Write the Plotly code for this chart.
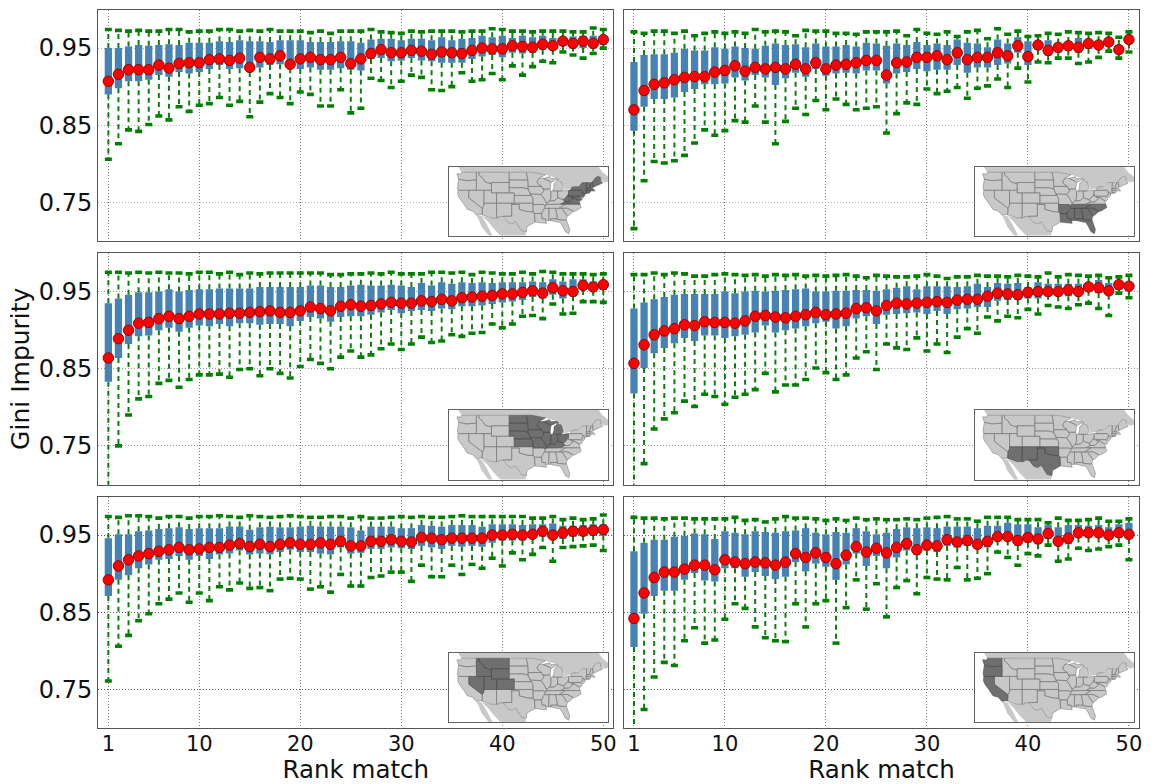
import numpy as np
import plotly.graph_objects as go

W, H = 1155, 784
ranks = list(range(1, 51))
x_ticks = [1, 10, 20, 30, 40, 50]
y_ticks = [0.75, 0.85, 0.95]
y_tick_labels = ["0.75", "0.85", "0.95"]
x_title = "Rank match"
y_title = "Gini Impurity"

# Values below are Gini impurity x 1000
ne_top = [974,973,972,973,972,972,974,974,971,972,972,974,974,972,973,972,974,972,972,972,970,972,969,972,972,972,974,971,970,969,972,971,972,972,972,971,972,972,975,974,972,972,971,972,972,972,971,971,976,974]
ne_q3 = [950,950,952,954,953,954,955,954,957,957,957,959,958,960,959,959,958,960,960,960,958,958,958,959,959,957,961,962,962,960,962,962,960,964,960,962,963,966,964,966,963,966,964,966,963,964,965,966,966,966]
ne_med = [907,916,922,922,922,928,924,930,931,931,935,936,934,937,925,938,936,940,929,936,938,935,935,938,930,936,943,948,944,944,947,946,942,945,944,943,947,950,949,949,953,952,951,955,953,959,956,959,956,961]
ne_q1 = [890,898,907,907,909,915,913,919,917,919,923,928,923,924,919,925,928,929,924,923,925,922,922,924,922,921,936,937,933,934,937,934,933,931,931,931,936,939,941,938,944,943,944,948,948,953,952,950,952,954]
ne_low = [806,826,844,842,851,862,857,874,868,876,878,886,876,881,861,880,891,886,878,893,890,875,875,896,866,872,911,908,899,907,915,912,896,895,900,918,907,909,917,909,927,915,926,933,931,945,941,937,943,950]

se_top = [971,969,972,972,969,972,966,969,971,969,971,969,974,971,972,971,966,973,972,972,969,969,968,971,971,971,972,966,974,969,968,971,965,971,973,962,975,968,972,965,966,969,968,971,970,969,970,969,964,971]
se_q3 = [932,941,942,942,944,949,947,947,951,949,952,950,949,953,956,954,955,951,956,952,952,954,952,957,956,953,956,954,958,954,956,954,961,957,956,951,961,956,964,959,959,960,956,958,963,960,959,962,954,966]
se_med = [870,895,903,905,909,912,913,913,919,921,927,920,925,923,925,923,929,923,931,923,928,929,931,934,934,915,931,932,938,938,940,935,944,935,938,938,944,940,953,939,954,947,951,953,951,956,954,958,948,961]
se_q1 = [843,874,884,884,886,893,897,903,903,904,912,908,915,912,902,911,918,913,923,914,917,918,917,921,921,904,917,919,923,920,922,922,928,918,925,925,928,930,944,928,948,940,944,947,944,949,949,952,943,956]
se_low = [716,778,803,801,804,811,827,844,837,843,856,854,875,854,826,855,872,864,882,870,884,877,870,872,874,840,865,879,877,897,891,894,899,885,898,901,910,899,924,906,932,931,937,937,930,932,938,946,937,945]

mw_top = [975,975,974,975,974,975,974,974,973,975,975,973,975,972,974,973,974,974,974,974,974,974,972,972,973,973,974,973,975,973,973,973,975,975,974,975,972,975,974,973,973,975,973,976,975,973,973,973,972,973]
mw_q3 = [935,941,946,949,949,950,953,950,952,953,953,954,954,954,954,956,956,956,956,956,958,958,956,956,958,959,958,958,959,958,956,961,958,962,960,962,961,962,961,962,962,962,963,962,966,963,966,966,963,963]
mw_med = [864,889,900,909,910,915,918,915,918,921,921,921,922,922,923,924,925,923,923,925,930,928,925,931,933,931,932,934,936,935,935,938,937,940,938,942,943,944,945,947,947,949,951,948,955,951,950,958,956,959]
mw_q1 = [833,864,882,892,893,900,903,898,903,906,905,908,905,909,909,907,908,908,905,912,917,915,911,917,918,918,920,923,926,922,925,926,925,928,927,931,931,932,934,936,937,939,943,941,946,941,944,952,951,952]
mw_low = [695,750,790,811,814,831,835,826,836,842,842,843,839,849,850,841,850,844,838,853,862,857,850,865,873,865,868,876,882,875,882,891,884,886,894,892,896,897,908,903,908,918,919,915,934,921,922,937,937,936]

sw_top = [972,972,974,972,974,973,970,970,972,973,972,971,972,970,972,971,972,970,971,970,971,972,970,968,971,970,969,969,970,972,970,967,969,969,971,970,970,969,971,970,969,974,969,972,971,970,971,968,969,971]
sw_q3 = [928,936,940,943,946,947,947,947,947,950,948,950,951,950,951,952,953,954,950,950,951,951,952,952,951,953,955,957,953,957,957,957,956,957,960,956,961,960,961,956,962,960,960,960,960,962,965,961,964,962]
sw_med = [857,881,894,899,902,907,906,911,910,910,909,912,918,919,917,916,918,920,923,920,921,922,928,929,925,932,935,934,935,936,937,936,939,940,940,944,948,947,946,949,950,950,950,952,950,956,955,951,959,957]
sw_q1 = [818,851,870,877,883,890,886,893,893,890,892,894,897,906,897,900,902,905,909,911,902,905,915,918,908,920,921,922,923,921,925,921,927,928,930,930,938,939,939,941,941,946,944,944,944,951,948,946,952,951]
sw_low = [695,727,772,785,793,808,801,817,814,804,813,817,823,844,820,829,829,836,851,845,836,842,864,872,849,882,877,875,890,873,882,871,891,902,896,917,912,918,916,927,921,932,930,928,933,935,928,919,948,942]

we_top = [974,973,975,975,974,972,974,974,972,974,974,975,974,973,975,974,973,974,975,974,973,973,974,974,972,974,972,972,973,974,973,974,973,973,974,975,974,974,974,974,974,974,972,972,974,970,972,970,971,976]
we_q3 = [946,951,951,955,956,958,959,960,958,959,959,959,961,961,957,960,961,960,960,961,962,961,961,961,960,956,961,961,961,959,959,963,962,961,963,963,963,961,964,964,964,963,964,964,965,962,962,963,964,964]
we_med = [892,910,918,923,926,929,931,934,931,932,934,934,937,939,935,938,935,938,940,938,938,940,938,942,936,936,942,942,944,942,941,947,946,944,946,946,946,946,950,950,951,950,951,955,950,953,955,955,956,957]
we_q1 = [871,892,898,907,912,918,919,923,918,923,919,925,926,930,925,926,925,928,931,928,928,926,925,934,926,927,932,932,934,933,932,936,934,932,936,935,936,935,940,943,943,943,945,948,945,945,948,949,950,949]
we_low = [761,806,820,839,848,861,867,875,863,875,865,883,879,888,881,882,878,893,894,893,880,883,876,899,884,884,895,897,902,902,890,911,896,896,911,899,912,907,920,910,927,918,925,934,916,934,935,936,937,930]

pa_top = [973,972,972,971,972,972,971,971,971,971,973,969,970,967,971,974,972,972,971,969,971,969,972,970,971,970,970,971,970,972,973,974,971,971,968,973,973,973,970,970,970,966,972,969,969,970,972,968,968,971]
pa_q3 = [929,940,944,944,948,949,952,951,945,955,953,951,955,954,953,955,956,959,953,951,954,953,959,955,951,953,958,960,959,960,959,961,961,961,959,962,962,966,964,964,960,963,960,963,963,962,963,960,964,966]
pa_med = [842,875,895,902,902,906,911,911,905,918,915,913,915,914,911,915,926,921,927,921,913,924,935,928,933,927,934,939,931,937,936,944,941,943,938,942,948,948,943,947,945,952,942,946,953,953,953,950,953,951]
pa_q1 = [805,848,871,878,878,892,901,891,890,907,907,896,902,897,893,896,915,903,913,909,892,912,926,910,923,907,921,930,924,930,928,936,934,936,932,934,943,943,936,940,938,945,936,938,947,947,947,945,947,945]
pa_low = [695,724,766,785,781,813,830,810,814,841,861,855,831,817,813,812,861,831,861,865,810,856,892,854,887,844,882,891,874,895,893,892,908,892,894,900,928,921,911,926,923,937,916,919,933,930,932,935,937,918]

panels = [
    (ne_top, ne_q3, ne_med, ne_q1, ne_low),
    (se_top, se_q3, se_med, se_q1, se_low),
    (mw_top, mw_q3, mw_med, mw_q1, mw_low),
    (sw_top, sw_q3, sw_med, sw_q1, sw_low),
    (we_top, we_q3, we_med, we_q1, we_low),
    (pa_top, pa_q3, pa_med, pa_q1, pa_low),
]

# Highlighted regions of the inset maps
region_states = [
    ["ME", "NH", "VT", "MA", "CT", "NY", "NJ", "PA", "MD", "VA", "WV"],
    ["AR", "LA", "MS", "AL", "TN", "GA", "FL", "SC", "NC"],
    ["ND", "SD", "NE", "KS", "MN", "IA", "MO", "WI", "IL", "MI", "MIU", "IN", "OH", "KY"],
    ["AZ", "NM", "TX", "OK"],
    ["MT", "ID", "WY", "NV", "UT", "CO"],
    ["WA", "OR", "CA"],
]

# Simplified inset geography (lon, lat)
states = {
    "WA": [(-124.7,48.4),(-123,48.3),(-122.8,49),(-117,49),(-117,46),(-119,45.9),(-121,45.7),(-123.2,46.2),(-124,46.3)],
    "OR": [(-124,46.3),(-123.2,46.2),(-121,45.7),(-119,45.9),(-117,46),(-116.9,45),(-117,44),(-117,42),(-124.2,42),(-124.5,43)],
    "CA": [(-124.2,42),(-120,42),(-120,39),(-114.6,35),(-114.7,32.7),(-117.1,32.5),(-118.5,34),(-120.6,34.6),(-122,36.7),(-123.7,38.9),(-124.4,40.4)],
    "NV": [(-120,42),(-114,42),(-114,36.2),(-114.6,35),(-120,39)],
    "ID": [(-117,49),(-116,49),(-116,48),(-114.4,46.6),(-113.5,45.2),(-111,44.5),(-111,42),(-117,42),(-117,44),(-116.9,45),(-117,46)],
    "MT": [(-116,49),(-104,49),(-104,45),(-111,45),(-111,44.5),(-113.5,45.2),(-114.4,46.6),(-116,48)],
    "WY": [(-111,45),(-104,45),(-104,41),(-111,41)],
    "UT": [(-114,42),(-111,42),(-111,41),(-109,41),(-109,37),(-114,37)],
    "AZ": [(-114,37),(-109,37),(-109,31.3),(-111,31.3),(-114.8,32.5),(-114.6,35),(-114,36.2)],
    "CO": [(-109,41),(-102,41),(-102,37),(-109,37)],
    "NM": [(-109,37),(-103,37),(-103,32),(-106.5,32),(-106.5,31.8),(-108.2,31.8),(-108.2,31.3),(-109,31.3)],
    "ND": [(-104,49),(-97.2,49),(-96.6,46),(-104,46)],
    "SD": [(-104,46),(-96.6,46),(-96.5,42.5),(-98.5,43),(-104,43)],
    "NE": [(-104,43),(-98.5,43),(-96.5,42.5),(-95.3,40),(-102,40),(-102,41),(-104,41)],
    "KS": [(-102,40),(-95.3,40),(-94.6,39),(-94.6,37),(-102,37)],
    "OK": [(-103,37),(-94.6,37),(-94.5,33.6),(-97,33.8),(-100,34.6),(-100,36.5),(-103,36.5)],
    "TX": [(-103,36.5),(-100,36.5),(-100,34.6),(-97,33.8),(-94.5,33.6),(-94,33),(-93.8,29.7),(-97,27.9),(-97.2,26),(-99.2,26.4),(-101.4,29.8),(-103,29),(-104.5,29.6),(-106.5,31.8),(-106.5,32),(-103,32)],
    "MN": [(-97.2,49),(-95,49),(-89.6,48),(-92,46.7),(-92.9,45.5),(-92.8,44.7),(-91.2,43.5),(-96.5,43.5),(-96.6,46)],
    "IA": [(-96.5,43.5),(-91.2,43.5),(-90.2,41.8),(-91.4,40.4),(-95.7,40.6),(-96.5,42.5)],
    "MO": [(-95.7,40.6),(-91.4,40.4),(-90.2,38.8),(-89.2,37),(-89.7,36),(-90.4,36.5),(-94.6,36.5),(-94.6,39),(-95.3,40)],
    "AR": [(-94.6,36.5),(-90.4,36.5),(-89.7,36),(-91.2,33),(-94,33),(-94.5,33.6)],
    "LA": [(-94,33),(-91.2,33),(-91,31),(-89.7,31),(-89.5,30.2),(-89.2,29.2),(-91.5,29.4),(-93.8,29.7)],
    "WI": [(-92,46.7),(-90.5,46.6),(-88,45.5),(-87.5,45),(-87.8,42.5),(-90.6,42.5),(-91.2,43.5),(-92.8,44.7),(-92.9,45.5)],
    "IL": [(-90.6,42.5),(-87.8,42.5),(-87.5,41.5),(-87.5,39),(-88,37.9),(-89.2,37),(-90.2,38.8),(-91.4,40.4),(-90.2,41.8)],
    "MI": [(-86.8,41.8),(-84.8,41.7),(-83.4,41.7),(-82.5,43),(-82.9,44),(-83.4,45.3),(-84.8,45.8),(-86.2,44.7),(-86.3,43)],
    "MIU": [(-90.5,46.6),(-88,47.3),(-87.5,46.5),(-85,46.7),(-84.2,46),(-85.5,46),(-87.5,45),(-88,45.5)],
    "IN": [(-87.5,41.7),(-84.8,41.7),(-84.8,39.1),(-86,38),(-88,37.9),(-87.5,39)],
    "OH": [(-84.8,41.7),(-83.4,41.7),(-80.5,42),(-80.5,40.6),(-81.7,39),(-82.6,38.4),(-84.8,39.1)],
    "KY": [(-89.2,37),(-88,37.9),(-86,38),(-84.8,39.1),(-82.6,38.4),(-82,37.5),(-83.7,36.6),(-89.4,36.5)],
    "TN": [(-90,35),(-89.4,36.5),(-83.7,36.6),(-81.7,36.6),(-84.3,35)],
    "MS": [(-91.2,33),(-90,35),(-88.2,35),(-88.4,30.3),(-89.5,30.2),(-89.7,31),(-91,31)],
    "AL": [(-88.2,35),(-85.6,35),(-85,32),(-85,31),(-87.6,31),(-87.5,30.3),(-88.4,30.3)],
    "GA": [(-85.6,35),(-83.1,35),(-81,32),(-81.4,30.7),(-82,30.4),(-84.9,30.7),(-85,32)],
    "FL": [(-87.6,31),(-85,31),(-84.9,30.7),(-82,30.4),(-81.4,30.7),(-80,26.8),(-80.4,25.2),(-81.8,26),(-82.8,28),(-83.8,29.6),(-85,29.7),(-87.5,30.3)],
    "SC": [(-83.1,35),(-81,35.1),(-78.6,33.9),(-79.9,32.6),(-81,32)],
    "NC": [(-84.3,35),(-81.7,36.6),(-75.9,36.6),(-75.5,35.3),(-77.9,33.9),(-78.6,33.9),(-81,35.1),(-83.1,35)],
    "VA": [(-83.7,36.6),(-81.7,36.6),(-75.9,36.6),(-76.3,38),(-77.2,38.5),(-78.4,39.2),(-80.3,37.5),(-82,37.5)],
    "WV": [(-82.6,38.4),(-81.7,39),(-80.5,40.6),(-80.5,39.7),(-79.5,39.7),(-79.5,39.2),(-78.4,39.2),(-80.3,37.5),(-82,37.5)],
    "PA": [(-80.5,42),(-79.8,42),(-75.3,42),(-74.8,41.3),(-75.1,40),(-75.8,39.7),(-80.5,39.7)],
    "NY": [(-79.8,42.3),(-79,43.3),(-76.5,43.5),(-75,45),(-73.3,45),(-73.5,41.3),(-72,41),(-74,40.6),(-74.8,41.3),(-75.3,42),(-79.8,42)],
    "NJ": [(-74.8,41.3),(-74,41),(-74,40),(-74.9,39),(-75.5,39.6),(-75.1,40)],
    "MD": [(-79.5,39.7),(-75.8,39.7),(-75.1,38.5),(-75.5,38),(-76.3,38),(-77.2,38.5),(-78.4,39.2),(-79.5,39.2)],
    "CT": [(-73.5,42),(-71.8,42),(-71.8,41.3),(-73.5,41)],
    "MA": [(-73.4,42.7),(-71.3,42.7),(-70.7,42.6),(-70,41.7),(-71.8,42),(-73.5,42)],
    "VT": [(-73.3,45),(-71.5,45),(-72.4,42.7),(-73.4,42.7)],
    "NH": [(-71.5,45),(-71,45.3),(-70.7,43.2),(-71.3,42.7),(-72.4,42.7)],
    "ME": [(-71,45.3),(-70,46.7),(-69,47.4),(-67.8,47),(-67.8,45.7),(-67,44.8),(-70.7,43.2)],
}
neighbours = [
    [(-124.5,51.5),(-122.8,49),(-95,49),(-89.6,48),(-84.5,46.5),(-82,43),(-83,42),(-79,42.8),(-76.5,43.8),(-75,45),(-71,45.3),(-70,46.7),(-69,47.4),(-67.8,47),(-67.8,45.7),(-66,45),(-64.5,45.5),(-64.5,47),(-67,49),(-69,51.5)],
    [(-117.1,32.5),(-114.9,32),(-113,29),(-111.5,26.5),(-110.5,24.3),(-112,24.3),(-115,28),(-116,30.5)],
    [(-114.8,32),(-111,31.3),(-108.2,31.3),(-108.2,31.8),(-106.5,31.8),(-104.5,29.6),(-103,29),(-101.4,29.8),(-99.2,26.4),(-97.2,26),(-97.7,24),(-107,24),(-110,27),(-112.5,30)],
]


def poly_xy(polys):
    xs, ys = [], []
    for p in polys:
        xs += [q[0] for q in p] + [p[0][0], None]
        ys += [q[1] for q in p] + [p[0][1], None]
    return xs, ys


# Panel frames in pixels: left, right, top, bottom
col_x = [(98.5, 615.0), (625.5, 1142.0)]
row_y = [(9.5, 241.0), (253.0, 484.5), (496.5, 728.0)]
inset_x = [(450.5, 610), (977.5, 1137)]
inset_y = [(166.5, 235.5), (409.5, 479.5), (652.5, 722)]
grid_cols = ["#b0b0b0", "#989898", "#606060"]

fig = go.Figure()
layout = {}


def dom_x(a, b):
    return [a / W, b / W]


def dom_y(top, bottom):
    return [1 - bottom / H, 1 - top / H]


for i, vals in enumerate(panels):
    top, q3, med, q1, low = [np.array(v) / 1000 for v in vals]
    r, c = i // 2, i % 2
    n = i + 1
    m = i + 7
    ax, ay = ("x" if n == 1 else f"x{n}"), ("y" if n == 1 else f"y{n}")
    bx, by = f"x{m}", f"y{m}"

    fig.add_trace(go.Bar(x=ranks, y=q3 - q1, base=q1, width=0.72, marker=dict(color="#4682b4", line=dict(width=0)),
                         xaxis=ax, yaxis=ay, showlegend=False))
    wx, wy = [], []
    for k, rank in enumerate(ranks):
        wx += [rank, rank, None, rank, rank, None]
        wy += [q3[k], top[k], None, q1[k], low[k], None]
    fig.add_trace(go.Scatter(x=wx, y=wy, mode="lines", line=dict(color="#0a800a", width=2, dash="5px,4px"),
                             xaxis=ax, yaxis=ay, showlegend=False))
    fig.add_trace(go.Scatter(x=ranks + ranks, y=list(top) + list(low), mode="markers",
                             marker=dict(symbol="line-ew", size=5, line=dict(color="#008000", width=3.6)),
                             xaxis=ax, yaxis=ay, showlegend=False))
    fig.add_trace(go.Scatter(x=ranks, y=med, mode="markers",
                             marker=dict(color="#ff0000", size=10.5, line=dict(color="#8a0a0a", width=1)),
                             xaxis=ax, yaxis=ay, showlegend=False))

    # inset map
    nx, ny = poly_xy(neighbours)
    fig.add_trace(go.Scatter(x=nx, y=ny, mode="lines", fill="toself", fillcolor="rgba(190,190,190,0.85)",
                             line=dict(width=0), xaxis=bx, yaxis=by, showlegend=False, hoverinfo="skip"))
    dark = region_states[i]
    lx, ly = poly_xy([p for s, p in states.items() if s not in dark])
    fig.add_trace(go.Scatter(x=lx, y=ly, mode="lines", fill="toself", fillcolor="rgba(190,190,190,0.85)",
                             line=dict(color="#727272", width=0.5), xaxis=bx, yaxis=by, showlegend=False, hoverinfo="skip"))
    dx, dy = poly_xy([states[s] for s in dark])
    fig.add_trace(go.Scatter(x=dx, y=dy, mode="lines", fill="toself", fillcolor="rgba(95,95,95,0.9)",
                             line=dict(color="#4a4a4a", width=0.5), xaxis=bx, yaxis=by, showlegend=False, hoverinfo="skip"))

    suffix = "" if n == 1 else str(n)
    layout[f"xaxis{suffix}"] = dict(
        domain=dom_x(*col_x[c]), anchor=ay, range=[0, 51], tickmode="array", tickvals=x_ticks,
        ticktext=[str(t) for t in x_ticks] if r == 2 else None, showticklabels=r == 2,
        showgrid=True, gridcolor="#808080", griddash="1px,2px", gridwidth=1, zeroline=False,
        showline=True, mirror=True, linecolor="#555555", linewidth=1.4, ticks="", ticklabelstandoff=-3,
        tickfont=dict(family="DejaVu Sans", size=21, color="#111111"),
        title=dict(text=x_title, standoff=9, font=dict(family="DejaVu Sans", size=24.5, color="#111111")) if r == 2 else None,
    )
    layout[f"yaxis{suffix}"] = dict(
        domain=dom_y(*row_y[r]), anchor=ax, range=[0.70, 1.0], tickmode="array", tickvals=y_ticks,
        ticktext=y_tick_labels if c == 0 else None, showticklabels=c == 0,
        showgrid=True, gridcolor=grid_cols[r], griddash="1px,2px", gridwidth=1, zeroline=False,
        showline=True, mirror=True, linecolor="#555555", linewidth=1.4, ticks="",
        tickfont=dict(family="DejaVu Sans", size=24, color="#111111"),
        title=dict(text=y_title, standoff=2, font=dict(family="DejaVu Sans", size=25, color="#111111")) if i == 2 else None,
    )
    layout[f"xaxis{m}"] = dict(
        domain=dom_x(*inset_x[c]), anchor=by, range=[-127.7, -64.7], visible=True, showticklabels=False,
        showgrid=False, zeroline=False, showline=True, mirror=True, linecolor="#626262", linewidth=1.3, ticks="",
    )
    layout[f"yaxis{m}"] = dict(
        domain=dom_y(*inset_y[r]), anchor=bx, range=[24.5, 51.2], visible=True, showticklabels=False,
        showgrid=False, zeroline=False, showline=True, mirror=True, linecolor="#626262", linewidth=1.3, ticks="",
    )

fig.update_layout(width=W, height=H, margin=dict(l=0, r=0, t=0, b=0), paper_bgcolor="white", plot_bgcolor="white",
                  barmode="overlay", showlegend=False, **layout)
fig.write_html("out.html", config={"displayModeBar": False},
               post_script="document.body.style.margin='0';document.documentElement.style.overflow='hidden';")
